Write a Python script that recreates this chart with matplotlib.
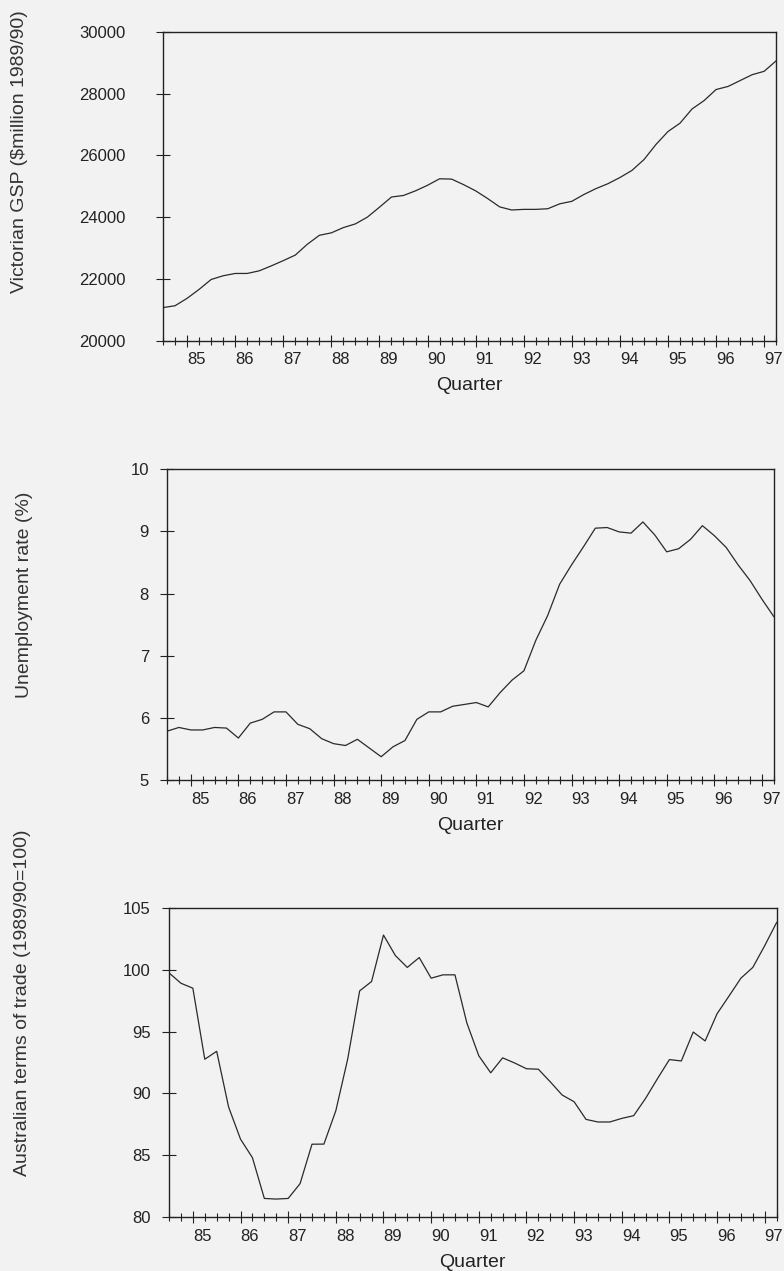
import numpy as np
import matplotlib.pyplot as plt
from matplotlib.ticker import MultipleLocator

plt.rcParams['font.family'] = ['Liberation Sans', 'DejaVu Sans']

# Quarterly series, 1984Q3 to 1997Q2
start_year = 1984.5
gsp = [21070, 21130, 21370, 21660, 21980, 22100, 22175, 22175, 22260, 22420,
       22590, 22770, 23120, 23410, 23490, 23660, 23780, 24000, 24320, 24650,
       24700, 24850, 25030, 25240, 25230, 25050, 24850, 24600, 24330, 24230,
       24250, 24250, 24270, 24430, 24510, 24730, 24920, 25080, 25280, 25510,
       25860, 26350, 26770, 27040, 27500, 27770, 28130, 28230, 28420, 28610,
       28720, 29060]
unemp = [5.79, 5.85, 5.81, 5.81, 5.85, 5.84, 5.68, 5.92, 5.98, 6.10,
         6.10, 5.90, 5.83, 5.67, 5.59, 5.56, 5.66, 5.52, 5.38, 5.54,
         5.64, 5.98, 6.10, 6.10, 6.19, 6.22, 6.25, 6.18, 6.41, 6.61,
         6.76, 7.25, 7.65, 8.15, 8.46, 8.75, 9.05, 9.06, 8.99, 8.97,
         9.15, 8.94, 8.67, 8.72, 8.87, 9.09, 8.93, 8.74, 8.46, 8.21,
         7.91, 7.63]
tot = [99.76, 98.92, 98.52, 92.77, 93.41, 88.9, 86.3, 84.8, 81.5, 81.45,
       81.5, 82.7, 85.89, 85.9, 88.6, 92.8, 98.3, 99.06, 102.82, 101.16,
       100.2, 101.0, 99.33, 99.6, 99.6, 95.7, 93.05, 91.67, 92.88, 92.47,
       92.0, 91.96, 90.94, 89.87, 89.33, 87.9, 87.69, 87.69, 87.98, 88.2,
       89.6, 91.2, 92.74, 92.63, 94.97, 94.25, 96.45, 97.88, 99.33, 100.2,
       101.96, 103.84]

years = list(range(1985, 1998))
year_labels = [str(y)[2:] for y in years]

panels = [
    (gsp, 'Victorian GSP ($million 1989/90)', (20000, 30000), [20000, 22000, 24000, 26000, 28000, 30000]),
    (unemp, 'Unemployment rate (%)', (5, 10), [5, 6, 7, 8, 9, 10]),
    (tot, 'Australian terms of trade (1989/90=100)', (80, 105), [80, 85, 90, 95, 100, 105]),
]

# axes rectangles in figure fractions
rects = [
    [0.208, 0.732, 0.782, 0.243],
    [0.213, 0.386, 0.774, 0.245],
    [0.2156, 0.0425, 0.775, 0.243],
]
ylab_pos = [(-0.220, 0.612), (-0.221, 0.595), (-0.227, 0.693)]
ytick_pad = [22, 8, 8]

bg = '#f2f2f2'
ink = '#222222'
fig = plt.figure(figsize=(7.84, 12.71), dpi=100, facecolor=bg)

for (vals, label, ylim, yticks), rect, lpos, pad in zip(panels, rects, ylab_pos, ytick_pad):
    ax = fig.add_axes(rect, facecolor=bg)
    x = start_year + 0.25 * np.arange(len(vals))
    ax.plot(x, vals, color='#2a2a2a', lw=0.9)
    ax.set_xlim(x[0], x[-1])
    ax.set_ylim(*ylim)
    ax.set_yticks(yticks)
    ax.set_xticks(years)
    ax.set_xticklabels(year_labels)
    ax.xaxis.set_minor_locator(MultipleLocator(0.25))
    plt.setp(ax.get_xticklabels(), ha='left')
    ax.tick_params(axis='y', direction='inout', length=10, width=0.8, pad=pad,
                   labelsize=12, colors=ink)
    ax.tick_params(axis='x', which='major', direction='inout', length=9, width=0.8,
                   pad=4, labelsize=12, colors=ink)
    ax.tick_params(axis='x', which='minor', direction='inout', length=6, width=0.8,
                   colors=ink)
    for s in ax.spines.values():
        s.set_linewidth(1.0)
        s.set_color(ink)
    ax.set_ylabel(label, fontsize=14, color='#333333')
    ax.yaxis.set_label_coords(*lpos)
    ax.set_xlabel('Quarter', fontsize=14, color=ink, labelpad=7)

fig.savefig('out.png', dpi=100, facecolor=bg)
